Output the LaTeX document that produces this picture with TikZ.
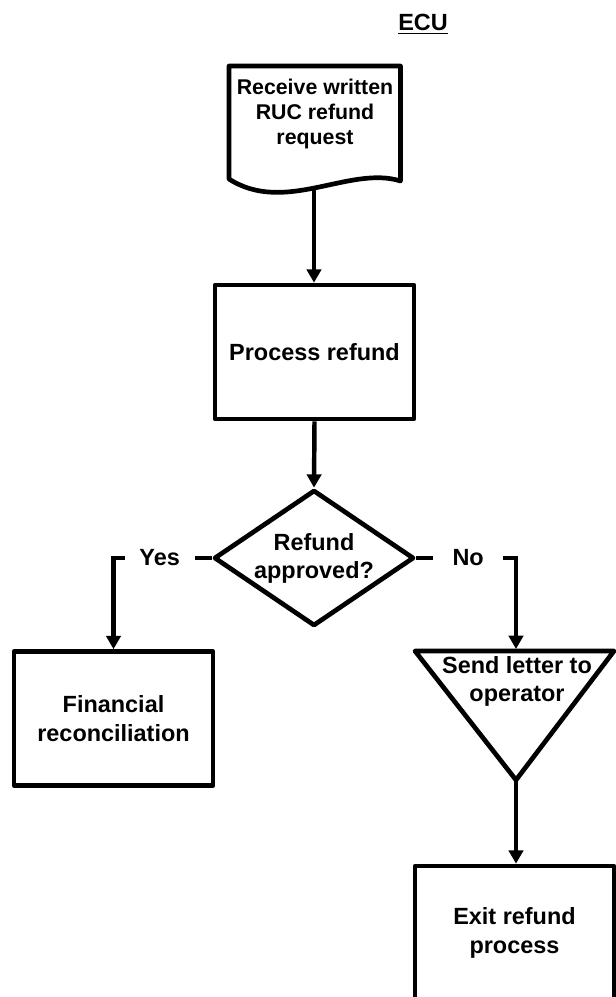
\documentclass[tikz,border=0pt]{standalone}
\usepackage{fontspec}
\setmainfont{Liberation Sans}
\usetikzlibrary{arrows.meta,shapes.geometric}
\newcommand{\ulbold}[1]{{\setbox0\hbox{#1}\rlap{\vrule height -2.2pt depth 3.8pt width \wd0}\box0}}
\tikzset{
  shapeline/.style={line width=4pt, line join=round},
  flowline/.style={line width=3.8pt, -{Triangle[length=0.4cm,width=0.43cm]}},
  procbox/.style={draw, shapeline, minimum width=5.97cm, minimum height=4.02cm,
    align=center, font=\fontsize{20}{24.5}\selectfont\bfseries},
  decision/.style={draw, shapeline, diamond, aspect=1.47, inner sep=0pt,
    minimum width=6cm, minimum height=4.08cm, align=center,
    font=\fontsize{20}{24}\selectfont\bfseries},
  flowtext/.style={align=center, font=\fontsize{20}{24}\selectfont\bfseries},
  doctext/.style={align=center, font=\fontsize{18.2}{21.3}\selectfont\bfseries},
  branchlabel/.style={fill=white, inner sep=0pt, minimum width=2.1cm,
    minimum height=0.6cm, font=\fontsize{20}{24}\selectfont\bfseries},
}
\begin{document}
\begin{tikzpicture}[x=0.03cm, y=-0.03cm]
\useasboundingbox (0,0) rectangle (616,997);
\clip (0,0) rectangle (616,997);
% lane title
\node[flowtext, anchor=base] (ecu) at (423,30) {\ulbold{ECU}};
% written request (document shape)
\draw[shapeline] (229,66) -- (400.5,66) -- (400.5,181)
  .. controls (350,165) and (285,215) .. (229,179) -- cycle;
\node[doctext] (request) at (315,114) {Receive written\\RUC refund\\request};
\coordinate (request_bot) at (314,188);
% process
\node[procbox] (process) at (314.5,352) {Process refund};
\draw[flowline] (request_bot) -- (request_bot |- process.north);
% decision
\node[decision] (approved) at (314,558) {Refund\\approved?};
\draw[flowline] (process.south) -- (approved.north);
% yes branch
\node[procbox] (reconcile) at (113.5,718.5) {Financial\\reconciliation};
\draw[flowline] (approved.west) -| node[branchlabel, pos=0.265] {Yes} (reconcile.north);
% no branch (triangle)
\coordinate (letter_tl) at (415,651);
\coordinate (letter_tr) at (614,651);
\coordinate (letter_apex) at (516,780);
\coordinate (letter_top) at (516,649);
\draw[shapeline] (letter_tl) -- (letter_tr) -- (letter_apex) -- cycle;
\node[flowtext] (letter) at (517,681) {Send letter to\\operator};
\draw[flowline] (approved.east) -| node[branchlabel, pos=0.26] {No} (letter_top);
% exit
\node[procbox] (exit) at (514.5,933) {Exit refund\\process};
\draw[flowline] (letter_apex) -- (letter_apex |- exit.north);
\end{tikzpicture}
\end{document}
